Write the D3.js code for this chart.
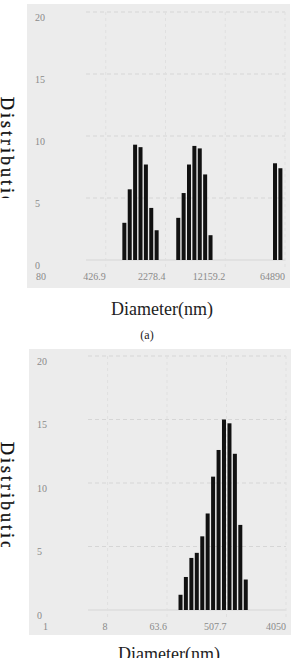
<!DOCTYPE html>
<html>
<head>
<meta charset="utf-8">
<script src="https://cdn.jsdelivr.net/npm/d3@7"></script>
<style>
  body { margin: 0; background: #fff; }
  svg { display: block; }
</style>
</head>
<body>
<div id="chart"></div>
<script>
// Panel (a): three size populations.
const topTicks = [80, 426.9, 2278.4, 12159.2, 64890];
const topDiam = [719, 836, 972, 1131, 1315, 1528, 1777, 3257, 3787, 4403, 5119, 5952, 6921, 8047, 49050, 57030];
const topDist = [3.0, 5.7, 9.3, 9.1, 7.7, 4.2, 2.4, 3.4, 5.4, 7.7, 9.2, 9.0, 6.9, 2.0, 7.8, 7.4];

// Panel (b): single population.
const botTicks = [1, 8, 63.6, 507.7, 4050];
const botDiam = [102, 123, 149, 180, 218, 263, 318, 385, 465, 563, 680, 822, 994];
const botDist = [1.2, 2.6, 4.1, 4.5, 5.8, 7.6, 10.5, 12.6, 15.0, 14.7, 12.3, 6.7, 2.4];

const yTicks = [0, 5, 10, 15, 20];

const svg = d3.select('#chart').append('svg')
  .attr('width', 293)
  .attr('height', 658);

const serif = "'Liberation Serif', 'DejaVu Serif', serif";

function drawPanel(cfg){
  const g = svg.append('g');

  // Gray plot background
  g.append('rect')
    .attr('x', cfg.bg[0]).attr('y', cfg.bg[1])
    .attr('width', cfg.bg[2]).attr('height', cfg.bg[3])
    .attr('fill', '#ececec');

  const x = d3.scaleLog().domain(cfg.xDomain).range(cfg.xRange);
  const y = d3.scaleLinear().domain([0, 20]).range(cfg.yRange);

  // Grid lines
  g.selectAll('line.hgrid')
    .data(yTicks)
    .enter().append('line')
      .attr('x1', cfg.xRange[0] + 40).attr('x2', cfg.xRange[1])
      .attr('y1', d => y(d)).attr('y2', d => y(d))
      .attr('stroke', '#d6d6d6')
      .attr('stroke-width', 1)
      .attr('stroke-dasharray', d => d === 0 ? null : '4,3');
  g.selectAll('line.vgrid')
    .data(cfg.ticks.slice(1))
    .enter().append('line')
      .attr('x1', d => x(d)).attr('x2', d => x(d))
      .attr('y1', y(20)).attr('y2', y(0) + 8)
      .attr('stroke', '#e0e0e0')
      .attr('stroke-dasharray', '3,3');

  // Bars
  g.selectAll('rect.bar')
    .data(cfg.diam.map((d, i) => ({ d: d, v: cfg.dist[i] })))
    .enter().append('rect')
      .attr('x', d => x(d.d) - 2)
      .attr('y', d => y(d.v))
      .attr('width', 4)
      .attr('height', d => y(0) - y(d.v))
      .attr('fill', '#111');

  // Y tick labels
  g.selectAll('text.ytick')
    .data(yTicks)
    .enter().append('text')
      .attr('x', cfg.yLabelX)
      .attr('y', d => y(d) + 5)
      .attr('dominant-baseline', 'central')
      .attr('font-family', serif)
      .attr('font-size', 10)
      .attr('fill', '#8a8a8a')
      .text(d => d);

  // X tick labels (right aligned to tick)
  g.selectAll('text.xtick')
    .data(cfg.ticks)
    .enter().append('text')
      .attr('x', d => x(d))
      .attr('y', y(0) + 16)
      .attr('dominant-baseline', 'central')
      .attr('text-anchor', 'end')
      .attr('font-family', serif)
      .attr('font-size', 10)
      .attr('fill', '#8a8a8a')
      .text(d => d);

  // X axis title
  g.append('text')
    .attr('x', cfg.xTitle[0])
    .attr('y', cfg.xTitle[1])
    .attr('text-anchor', 'middle')
    .attr('font-family', serif)
    .attr('font-size', 18)
    .attr('fill', '#222')
    .text('Diameter(nm)');

  // Y axis title, clipped like the scan
  const clipId = 'clip' + cfg.id;
  svg.append('clipPath').attr('id', clipId)
    .append('rect')
      .attr('x', 0).attr('y', cfg.yTitle[0] - 5)
      .attr('width', 22).attr('height', cfg.yTitle[1] - cfg.yTitle[0] + 5);
  g.append('g')
    .attr('clip-path', 'url(#' + clipId + ')')
    .append('text')
      .attr('transform', 'translate(1,' + cfg.yTitle[0] + ') rotate(90)')
      .attr('font-family', serif)
      .attr('font-size', 18)
      .attr('letter-spacing', 3)
      .attr('fill', '#111')
      .attr('stroke', '#111')
      .attr('stroke-width', 0.3)
      .text('Distribution(%)');
}

drawPanel({
  id: 'a',
  bg: [27, 4, 263, 284],
  xDomain: [80, 64890], xRange: [46, 285],
  yRange: [260, 12],
  ticks: topTicks, diam: topDiam, dist: topDist,
  yLabelX: 35,
  xTitle: [162, 315],
  yTitle: [97, 198]
});

drawPanel({
  id: 'b',
  bg: [29, 349, 262, 286],
  xDomain: [1, 4050], xRange: [48, 286],
  yRange: [610, 356],
  ticks: botTicks, diam: botDiam, dist: botDist,
  yLabelX: 37,
  xTitle: [169, 660],
  yTitle: [442, 547]
});

// Panel caption
svg.append('text')
  .attr('x', 147)
  .attr('y', 339)
  .attr('text-anchor', 'middle')
  .attr('font-family', serif)
  .attr('font-size', 12)
  .attr('fill', '#222')
  .text('(a)');
</script>
</body>
</html>
